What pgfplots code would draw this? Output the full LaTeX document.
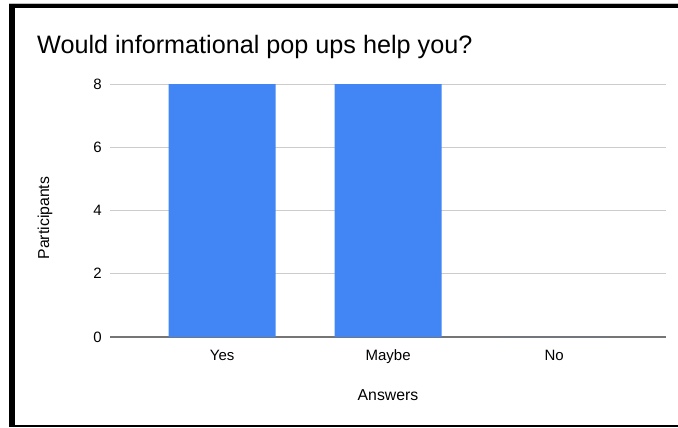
\documentclass[border=0pt]{standalone}
\usepackage{pgfplots}
\pgfplotsset{compat=1.18}
\usepackage{fontspec}
\setmainfont{Liberation Sans}
\definecolor{barblue}{HTML}{4285F4}
\definecolor{gridgray}{HTML}{CCCCCC}
\definecolor{axisgray}{HTML}{757575}
\begin{document}
\begin{tikzpicture}[x=1bp,y=1bp]
\useasboundingbox (0,0) rectangle (678,427);
\fill[white] (0,0) rectangle (678,427);
\fill[black!25] (9,423) rectangle (678,424);
\fill[black] (9,419) rectangle (678,423);
\fill[black] (9,0.5) rectangle (15,423);
\fill[black] (9,0.5) rectangle (678,1.8);
\node[anchor=base west,inner sep=0pt,font=\fontsize{25.2bp}{29bp}\selectfont] at (37,373.7) {Would informational pop ups help you?};
\begin{axis}[
  at={(110bp,90bp)}, anchor=south west,
  scale only axis,
  width=555.5bp, height=253bp,
  ymin=0, ymax=8,
  xmin=-0.675, xmax=2.67,
  ytick={0,2,4,6,8},
  xtick=data,
  xticklabels={Yes,Maybe,No},
  axis x line*=bottom,
  axis y line*=left,
  y axis line style={draw=none},
  x axis line style={axisgray, line width=1.2bp},
  ymajorgrids,
  grid style={gridgray, line width=0.8bp},
  major tick length=0pt,
  tick style={draw=none},
  ticklabel style={font=\fontsize{15bp}{18bp}\selectfont},
  /pgf/number format/assume math mode=true,
  yticklabel style={anchor=east, inner sep=0pt, xshift=-8bp},
  xticklabel style={anchor=base, inner sep=0pt, yshift=-23bp},
  xlabel={Answers},
  ylabel={Participants},
  label style={font=\fontsize{15.8bp}{19bp}\selectfont},
  xlabel style={at={(axis description cs:0.5004,-0.229)}, anchor=center, inner sep=0pt},
  ylabel style={at={(axis description cs:-0.117,0.47)}, anchor=center, inner sep=0pt},
  ybar, bar width=107bp,
  clip=false,
]
\addplot[fill=barblue, draw=none] coordinates {(0,8) (1,8) (2,0)};
\end{axis}
\end{tikzpicture}
\end{document}
